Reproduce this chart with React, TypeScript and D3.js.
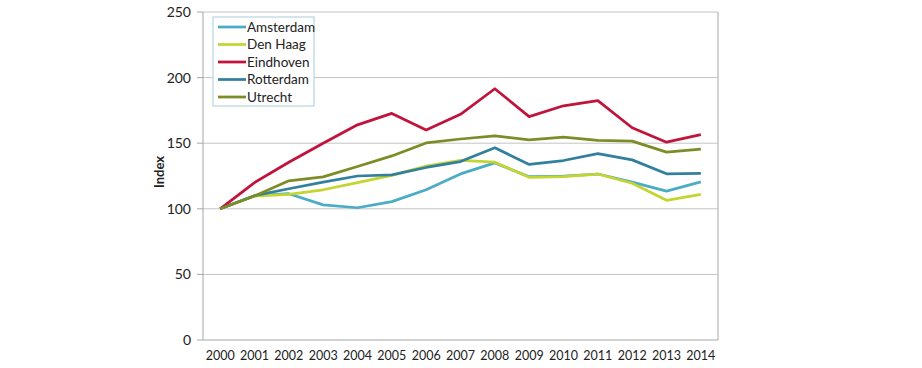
import React from "react";
import * as d3 from "d3";

const years = ["2000","2001","2002","2003","2004","2005","2006","2007","2008","2009","2010","2011","2012","2013","2014"];
const seriesNames = ["Amsterdam","Den Haag","Eindhoven","Rotterdam","Utrecht"];
const amsterdam = [100, 110, 111.5, 103, 100.8, 105.5, 114.5, 126.6, 135, 124.5, 125, 126.5, 120.3, 113.5, 120.5];
const denHaag = [100, 109.7, 111, 114.5, 120, 125.5, 132.5, 137, 135.5, 124, 124.5, 126.5, 119.5, 106.5, 111];
const eindhoven = [100, 120, 135.5, 150, 164, 172.7, 160, 172, 191.5, 170.3, 178.5, 182.5, 161.8, 150.8, 156.5];
const rotterdam = [100, 110, 115.3, 120.3, 125, 125.8, 131.5, 136, 146.5, 133.8, 136.8, 142, 137.3, 126.7, 127];
const utrecht = [100, 109.7, 121.3, 124.3, 132.2, 140.3, 150.2, 153.2, 155.5, 152.6, 154.6, 152.2, 151.6, 143.2, 145.5];
const yTicks = [0, 50, 100, 150, 200, 250];
const colors = ["#4bacc6", "#c4d530", "#c0143c", "#33809e", "#7d8c27"];

const W = 922, H = 368;
const FONT = "Lato, 'Open Sans', sans-serif";

export default function App() {
  const left = 203, right = 718, top = 12, bottom = 340;
  const x = d3.scaleBand<string>().domain(years).range([left, right]);
  const y = d3.scaleLinear().domain([0, 250]).range([bottom, top]);
  const data = [amsterdam, denHaag, eindhoven, rotterdam, utrecht];
  const line = d3.line<number>()
    .x((_, i) => (x(years[i]) as number) + x.bandwidth() / 2)
    .y((d) => y(d));

  const legX = 213, legY = 17, legW = 101, legH = 89;
  return (
    <svg width={W} height={H} style={{ position: "absolute", left: 0, top: 0, background: "#fff" }} fontFamily={FONT}>
      <rect x={0} y={0} width={W} height={H} fill="#fff" />
      {yTicks.map((t) => (
        <g key={t}>
          {t > 0 && <line x1={left} x2={right} y1={y(t)} y2={y(t)} stroke="#c4c4c4" strokeWidth={1} />}
          <line x1={left - 6} x2={left} y1={y(t)} y2={y(t)} stroke="#a6a6a6" strokeWidth={1} />
          <text x={191} y={y(t)} dy="0.35em" textAnchor="end" fontSize={14} fill="#222">{t}</text>
        </g>
      ))}
      <line x1={right} x2={right} y1={top} y2={bottom} stroke="#c4c4c4" strokeWidth={1.5} />
      <line x1={left} x2={left} y1={top} y2={bottom} stroke="#a6a6a6" strokeWidth={1} />
      <line x1={left} x2={right} y1={bottom} y2={bottom} stroke="#a6a6a6" strokeWidth={1} />
      {years.map((yr) => (
        <text key={yr} x={(x(yr) as number) + x.bandwidth() / 2} y={360} textAnchor="middle" fontSize={12.5} fill="#222">{yr}</text>
      ))}
      <text transform={`translate(164,${(top + bottom) / 2 - 4}) rotate(-90)`} textAnchor="middle" fontSize={13} fontWeight="bold" fill="#222">Index</text>
      {data.map((d, i) => (
        <path key={seriesNames[i]} d={line(d) as string} fill="none" stroke={colors[i]} strokeWidth={2.75} strokeLinejoin="round" />
      ))}
      <rect x={legX} y={legY} width={legW} height={legH} fill="#fff" stroke="#a9cbd9" strokeWidth={1} />
      {seriesNames.map((n, i) => {
        const ly = 27 + i * 17.5;
        return (
          <g key={n}>
            <line x1={218} x2={246} y1={ly} y2={ly} stroke={colors[i]} strokeWidth={2.75} />
            <text x={247} y={ly} dy="0.35em" fontSize={13.5} fill="#222">{n}</text>
          </g>
        );
      })}
    </svg>
  );
}
